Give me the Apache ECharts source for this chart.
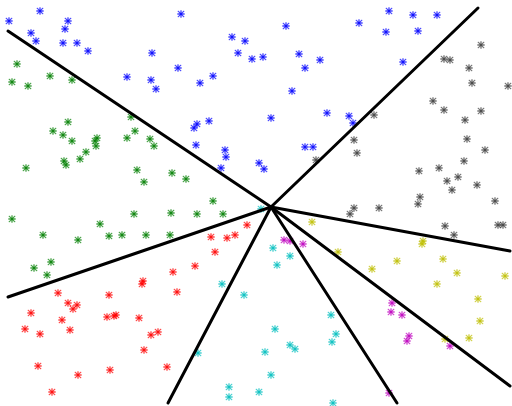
<!DOCTYPE html>
<html>
<head>
<meta charset="utf-8">
<script src="https://cdn.jsdelivr.net/npm/echarts@6/dist/echarts.min.js"></script>
<style>
  html, body { margin: 0; padding: 0; background: #fff; }
  #chart { width: 512px; height: 406px; }
</style>
</head>
<body>
<div id="chart"></div>
<script>
// Class samples (x, y in plot units; y grows downward)
const blue = [[40,11],[9,21],[68,21],[65,29],[31,33],[36,41],[63,43],[77,43],[88,51],[127,77],[181,14],[232,37],[245,41],[238,53],[252,59],[152,53],[178,68],[151,80],[156,89],[200,83],[213,76],[197,124],[194,128],[209,121],[196,145],[225,150],[226,157],[221,168],[286,26],[359,23],[263,57],[299,54],[320,60],[305,68],[292,91],[271,118],[327,113],[349,116],[353,123],[305,147],[313,147],[259,163],[264,169],[389,11],[413,15],[437,15],[386,32],[418,31],[403,62]];
const gray = [[374,115],[481,45],[444,59],[450,60],[469,68],[472,83],[508,86],[433,101],[444,110],[481,111],[465,120],[467,139],[485,150],[464,161],[419,171],[439,168],[447,181],[458,177],[477,185],[452,190],[420,197],[418,204],[495,201],[445,226],[454,235],[498,225],[503,225],[354,140],[357,153],[316,160],[354,208],[350,214],[379,208]];
const yellow = [[312,222],[338,252],[372,269],[423,241],[422,244],[397,261],[443,259],[457,273],[505,276],[437,284],[478,299],[480,321],[469,338],[445,339]];
const magenta = [[284,240],[290,241],[303,244],[392,303],[391,312],[402,315],[409,336],[407,341],[450,346],[389,393]];
const cyan = [[261,209],[273,248],[290,256],[277,265],[222,284],[244,295],[198,353],[229,387],[229,397],[331,315],[275,329],[336,334],[332,342],[290,345],[295,349],[265,352],[271,375],[259,392],[333,403]];
const red = [[247,225],[235,235],[227,238],[211,237],[215,252],[195,266],[173,272],[58,293],[68,303],[77,305],[73,309],[31,313],[62,320],[70,330],[25,329],[40,334],[109,295],[107,317],[114,316],[116,315],[38,366],[78,375],[110,370],[52,392],[143,281],[142,284],[177,292],[139,318],[158,332],[151,335],[144,350],[167,367]];
const green = [[17,64],[12,82],[28,86],[50,76],[72,80],[68,122],[53,131],[63,135],[131,117],[135,131],[72,141],[97,138],[95,141],[96,146],[127,138],[86,152],[80,159],[64,161],[66,165],[26,168],[12,219],[43,235],[78,240],[100,224],[109,236],[122,235],[51,262],[34,268],[47,275],[150,139],[154,146],[137,170],[144,182],[172,173],[186,179],[213,201],[134,214],[171,213],[197,214],[223,214],[146,235],[170,235]];

// Decision boundaries: rays from a shared hub
const hub = [271,207];
const rayEnds = [[8,31],[478,8],[510,251],[510,386],[397,403],[168,403],[8,297]];

const classes = [
  { data: blue, color: '#0000ff' },
  { data: gray, color: '#404040' },
  { data: yellow, color: '#bfbf00' },
  { data: magenta, color: '#bf00bf' },
  { data: cyan, color: '#00bfbf' },
  { data: red, color: '#ff0000' },
  { data: green, color: '#008000' }
];

// Asterisk marker: horizontal, vertical and two diagonal bars
const asterisk = 'path://M0 4.4L10 4.4L10 5.6L0 5.6Z M4.4 0L5.6 0L5.6 10L4.4 10Z M1.2 0.4L9.6 8.8L8.8 9.6L0.4 1.2Z M8.8 0.4L9.6 1.2L1.2 9.6L0.4 8.8Z';

const series = [];
rayEnds.forEach(function (end) {
  series.push({
    type: 'line',
    data: [hub, end],
    symbol: 'none',
    silent: true,
    lineStyle: { color: '#000', width: 3, cap: 'round' },
    z: 3
  });
});
classes.forEach(function (c) {
  series.push({
    type: 'scatter',
    data: c.data,
    symbol: asterisk,
    symbolSize: 7,
    itemStyle: { color: c.color, borderColor: c.color, borderWidth: 0.3 },
    z: 2
  });
});

const chart = echarts.init(document.getElementById('chart'), null, { renderer: 'canvas' });
chart.setOption({
  animation: false,
  backgroundColor: '#ffffff',
  grid: { left: 0, right: 0, top: 0, bottom: 0 },
  xAxis: { type: 'value', min: 0, max: 512, show: false },
  yAxis: { type: 'value', min: 0, max: 406, inverse: true, show: false },
  series: series
});
</script>
</body>
</html>
